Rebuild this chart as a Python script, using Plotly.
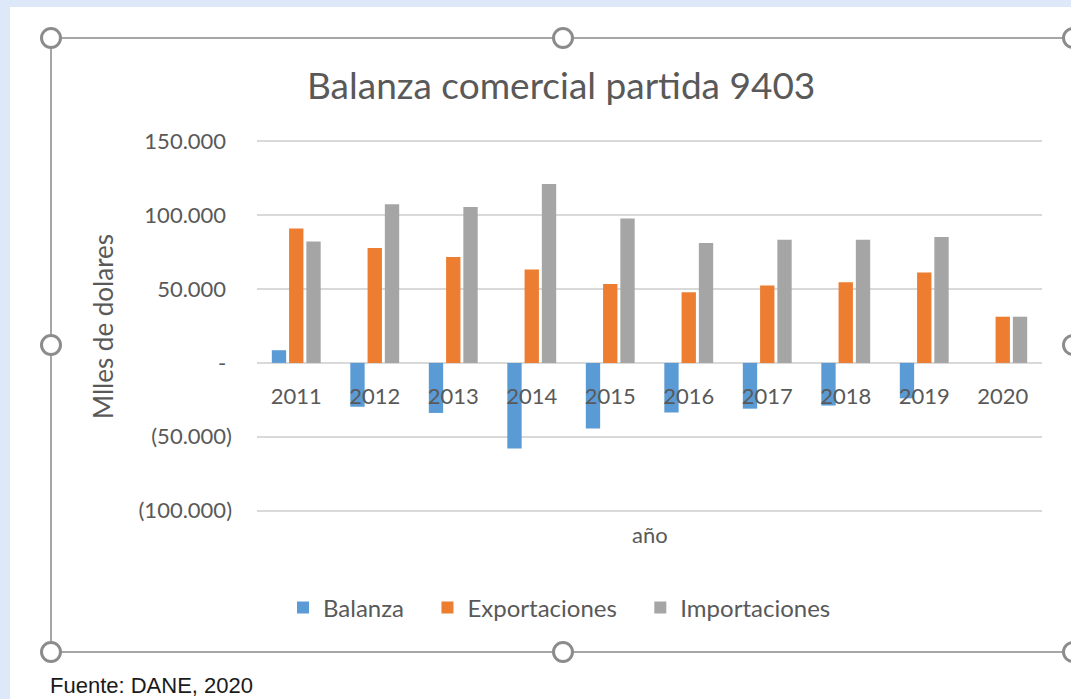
import plotly.graph_objects as go

# ---------------- data (miles de dólares) ----------------
years = ["2011", "2012", "2013", "2014", "2015", "2016", "2017", "2018", "2019", "2020"]
balanza = [8600, -29700, -33900, -58000, -44500, -33600, -31000, -28900, -24000, 0]
exportaciones = [91100, 77800, 71700, 63200, 53500, 47800, 52500, 54600, 61300, 31300]
importaciones = [82300, 107400, 105600, 121200, 97900, 81200, 83500, 83500, 85300, 31300]

tick_values = [-100000, -50000, 0, 50000, 100000, 150000]
tick_labels = ["(100.000)", "(50.000)", "-", "50.000", "100.000", "150.000"]

series_names = ["Balanza", "Exportaciones", "Importaciones"]
series_colors = ["#5B9BD5", "#ED7D31", "#A5A5A5"]

title_text = "Balanza comercial partida 9403"
y_title = "Mlles de dolares"
x_title = "año"
source_text = "Fuente: DANE, 2020"

# ---------------- layout geometry (pixels) ----------------
W, H = 1071, 699
ML, MR, MT, MB = 257, 29, 140, 187
PW, PH = W - ML - MR, H - MT - MB


def px(x):
    return (x - ML) / PW


def py(y):
    return (H - MB - y) / PH


FONT = "Lato"
GREY_TXT = "#595959"

# Excel-like tick text: keep digits aligned by padding non-negative labels with an invisible ")"
ticktext = [t if t.endswith(")") else t + "<span style='color:rgba(0,0,0,0)'>)</span>" for t in tick_labels]

fig = go.Figure()
for name, vals, col in zip(series_names, [balanza, exportaciones, importaciones], series_colors):
    fig.add_trace(go.Bar(x=years, y=vals, name=name + "\u00a0" * 3,
                         marker=dict(color=col, line=dict(width=0))))

# small padding so the outer gridlines are not clipped at the plot edge
PAD = 1000
y0, y1 = tick_values[0] - PAD, tick_values[-1] + PAD
zero_pos = (0 - y0) / (y1 - y0)

fig.update_layout(
    width=W, height=H,
    margin=dict(l=ML, r=MR, t=MT, b=MB, pad=0),
    paper_bgcolor="white", plot_bgcolor="white",
    barmode="group", bargap=0.34, bargroupgap=0.17,
    font=dict(family=FONT, color=GREY_TXT, size=22),
    showlegend=True,
    legend=dict(orientation="h", x=px(283), xanchor="left", y=py(608), yanchor="middle",
                font=dict(family=FONT, size=24, color=GREY_TXT), bgcolor="rgba(0,0,0,0)"),
    xaxis=dict(type="category", anchor="free", position=zero_pos, showgrid=False,
               showline=False, ticks="", ticklabelstandoff=18, zeroline=False,
               tickfont=dict(family=FONT, size=22, color=GREY_TXT)),
    yaxis=dict(range=[y0, y1], tickvals=tick_values, ticktext=ticktext, showgrid=True,
               gridcolor="#D9D9D9", gridwidth=2, zeroline=True, zerolinecolor="#D9D9D9",
               zerolinewidth=2, showline=False, ticks="", ticklabelstandoff=24,
               tickfont=dict(family=FONT, size=22, color=GREY_TXT)),
)

annotations = [
    dict(text=title_text, x=px(560.5), y=py(85), xref="paper", yref="paper", showarrow=False,
         xanchor="center", yanchor="middle", font=dict(family=FONT, size=37, color=GREY_TXT)),
    dict(text=y_title, x=px(103), y=py(327), xref="paper", yref="paper", showarrow=False,
         textangle=-90, xanchor="center", yanchor="middle", font=dict(family=FONT, size=26, color=GREY_TXT)),
    dict(text=x_title, x=px(649.5), y=py(534), xref="paper", yref="paper", showarrow=False,
         xanchor="center", yanchor="middle", font=dict(family=FONT, size=22, color=GREY_TXT)),
    dict(text=source_text, x=px(48), y=py(685), xref="paper", yref="paper", showarrow=False,
         xanchor="left", yanchor="middle", font=dict(family="Liberation Sans, Arial", size=22, color="#1a1a1a")),
]
fig.update_layout(annotations=annotations)

shapes = []
# light blue window strips
BLUE = "#DDE8F8"
shapes.append(dict(type="rect", xref="paper", yref="paper", x0=px(0), x1=px(W), y0=py(0), y1=py(7),
                   fillcolor=BLUE, line=dict(width=0), layer="below"))
shapes.append(dict(type="rect", xref="paper", yref="paper", x0=px(0), x1=px(10), y0=py(0), y1=py(H),
                   fillcolor=BLUE, line=dict(width=0), layer="below"))
# chart frame
FL, FT, FR, FB = 51, 38, 1073, 652
shapes.append(dict(type="rect", xref="paper", yref="paper", x0=px(FL), x1=px(FR), y0=py(FB), y1=py(FT),
                   fillcolor="rgba(0,0,0,0)", line=dict(color="#A6A6A6", width=2), layer="below"))
# selection handles
FM_X, FM_Y = 563, 345
R = 9.5
for hx, hy in [(FL, FT), (FM_X, FT), (FR, FT), (FL, FM_Y), (FR, FM_Y), (FL, FB), (FM_X, FB), (FR, FB)]:
    shapes.append(dict(type="circle", xref="paper", yref="paper", x0=px(hx - R), x1=px(hx + R),
                       y0=py(hy + R), y1=py(hy - R), fillcolor="white",
                       line=dict(color="#8C8C8C", width=3), layer="above"))
fig.update_layout(shapes=shapes)

fig.write_html("out.html", config={"displayModeBar": False},
               post_script="document.body.style.margin='0';document.body.style.overflow='hidden';")
